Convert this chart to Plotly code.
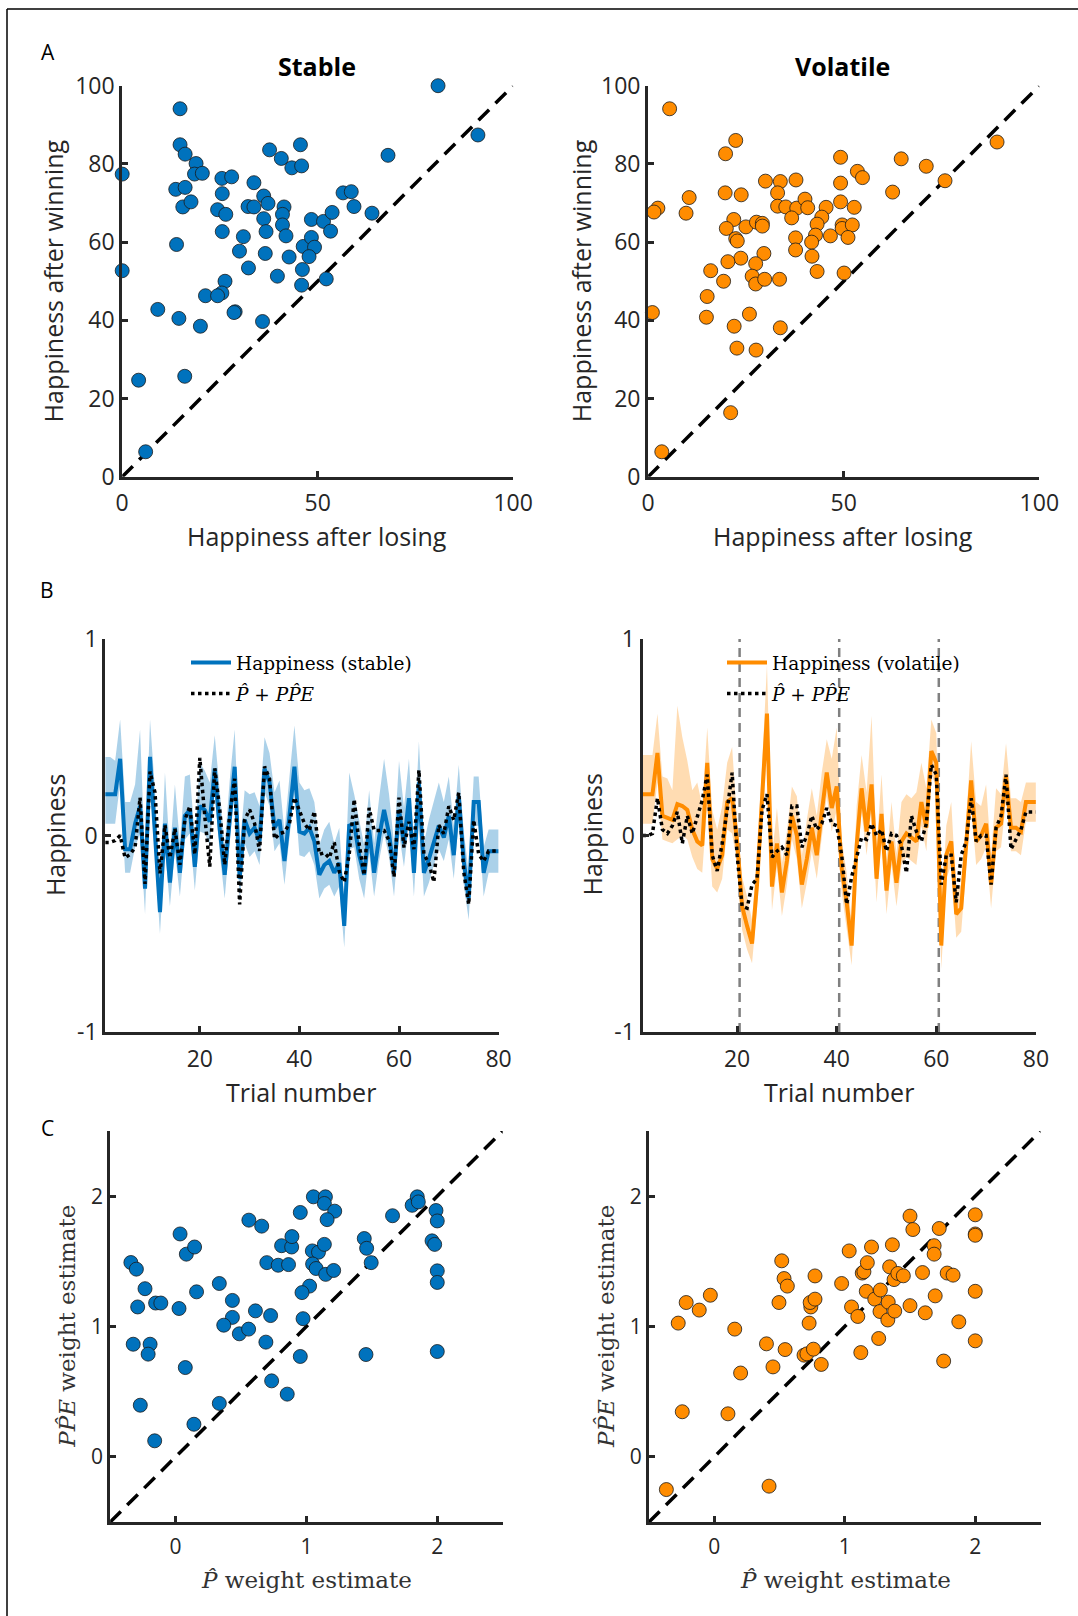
import plotly.graph_objects as go

# ---------------- DATA ----------------
# Panel A: happiness after losing (x) vs after winning (y)
a_stable_lose = [80.8, 91.0, 14.8, 14.8, 16.1, 37.7, 45.6, 40.7, 43.4, 45.9, 68.0, 0.0, 18.9, 18.5,
                 20.5, 25.5, 28.0, 33.7, 13.7, 16.1, 15.5, 17.6, 25.6, 24.4, 26.5, 32.2, 33.7, 36.2,
                 37.3, 36.2, 41.4, 41.0, 41.0, 41.9, 36.8, 25.6, 31.0, 48.4, 51.5, 53.7, 53.3, 56.5,
                 58.6, 59.3, 63.9, 13.9, 30.0, 36.6, 42.7, 46.3, 48.4, 49.2, 47.8, 32.3, 39.7, 46.1,
                 45.9, 52.2, 0.0, 26.3, 25.5, 21.3, 24.4, 9.1, 14.5, 20.0, 28.9, 35.9, 4.2, 16.0, 6.0,
                 28.6]
a_stable_win = [100.0, 87.4, 94.1, 84.9, 82.5, 83.6, 84.9, 81.4, 79.0, 79.5, 82.2, 77.4, 80.1, 77.4,
                77.6, 76.3, 76.7, 75.2, 73.5, 74.0, 69.0, 70.3, 72.4, 68.3, 67.1, 69.1, 69.0, 71.8,
                69.9, 66.0, 69.0, 67.1, 64.4, 61.6, 62.7, 62.7, 61.4, 65.8, 65.3, 67.6, 62.8, 72.6,
                72.9, 69.1, 67.4, 59.4, 57.7, 57.1, 56.2, 58.9, 61.2, 58.7, 56.3, 53.4, 51.3, 53.0,
                49.0, 50.6, 52.7, 50.0, 47.0, 46.3, 46.3, 42.8, 40.5, 38.5, 42.2, 39.7, 24.7, 25.7, 6.4,
                42.0]
a_vol_lose = [5.5, 22.4, 19.8, 49.2, 64.7, 71.1, 89.2, 75.9, 53.5, 54.8, 49.2, 62.5, 2.5, 1.5, 10.5,
              9.7, 19.7, 23.8, 30.0, 33.8, 37.8, 33.1, 33.1, 35.2, 38.0, 40.1, 40.8, 36.7, 45.5, 44.4,
              49.2, 52.7, 21.9, 20.0, 25.0, 27.7, 29.2, 29.2, 43.2, 42.8, 41.8, 46.6, 49.6, 49.6, 52.2,
              51.1, 37.7, 37.7, 22.4, 22.8, 23.7, 20.4, 29.6, 27.5, 16.0, 19.3, 26.6, 27.5, 29.8, 33.6,
              41.9, 43.2, 50.1, 15.1, 14.9, 25.9, 1.1, 22.0, 33.8, 22.7, 27.6, 21.1, 3.5]
a_vol_win = [94.1, 86.0, 82.6, 81.7, 81.3, 79.4, 85.6, 75.7, 78.1, 76.5, 75.1, 72.8, 68.7, 67.7, 71.4,
             67.4, 72.6, 72.1, 75.6, 75.5, 75.9, 72.6, 69.2, 69.0, 68.7, 71.0, 68.8, 66.2, 68.9, 66.4,
             70.3, 68.9, 65.8, 63.5, 63.9, 65.1, 64.8, 64.1, 64.6, 61.8, 60.0, 61.6, 64.4, 63.5, 64.4,
             61.2, 61.1, 58.0, 60.9, 60.3, 55.9, 55.0, 57.1, 54.5, 52.7, 50.0, 51.3, 49.3, 50.5, 50.5,
             56.4, 52.5, 52.1, 46.1, 40.8, 41.6, 42.0, 38.5, 38.1, 32.9, 32.4, 16.4, 6.4]
diag_a = [0, 100]

# Panel B: trial-by-trial happiness (mean), band offsets above / below the mean, model fit
trials = list(range(1, 81))
b_stable_mean = [0.21, 0.21, 0.21, 0.39, -0.07, -0.07, 0.06, 0.15, -0.27, 0.40, 0.03, -0.39, 0.06,
                 -0.24, 0.04, -0.19, 0.10, 0.13, -0.16, 0.15, 0.13, 0.07, 0.34, 0.03, -0.20, 0.10,
                 0.35, -0.22, 0.08, 0.01, 0.04, -0.03, 0.34, 0.27, 0.04, 0.08, -0.13, 0.10, 0.35,
                 0.02, 0.01, 0.04, -0.03, -0.20, -0.15, -0.13, -0.19, -0.14, -0.46, 0.05, 0.06,
                 -0.10, -0.20, 0.03, -0.19, -0.01, 0.13, 0.01, -0.19, 0.13, -0.04, 0.19, -0.19,
                 0.27, -0.19, -0.12, -0.03, 0.05, -0.01, 0.10, -0.10, 0.20, -0.13, -0.32, 0.17,
                 0.17, -0.19, -0.08, -0.08, -0.08]
b_stable_hi = [0.19, 0.19, 0.17, 0.20, 0.24, 0.24, 0.20, 0.39, 0.14, 0.19, 0.20, 0.12, 0.26, 0.15,
               0.22, 0.15, 0.20, 0.18, 0.15, 0.22, 0.20, 0.20, 0.17, 0.20, 0.15, 0.18, 0.19, 0.15,
               0.15, 0.20, 0.18, 0.18, 0.16, 0.15, 0.18, 0.20, 0.15, 0.20, 0.21, 0.25, 0.22, 0.20,
               0.20, 0.15, 0.18, 0.20, 0.15, 0.18, 0.13, 0.27, 0.15, 0.18, 0.15, 0.20, 0.15, 0.20,
               0.26, 0.20, 0.15, 0.25, 0.18, 0.20, 0.15, 0.21, 0.15, 0.20, 0.20, 0.22, 0.18, 0.20,
               0.15, 0.16, 0.15, 0.13, 0.13, 0.13, 0.13, 0.11, 0.11, 0.11]
b_stable_lo = [0.15, 0.15, 0.15, 0.12, 0.12, 0.12, 0.12, 0.14, 0.13, 0.12, 0.12, 0.11, 0.13, 0.12,
               0.12, 0.12, 0.12, 0.12, 0.12, 0.13, 0.12, 0.12, 0.12, 0.12, 0.12, 0.12, 0.12, 0.12,
               0.12, 0.12, 0.12, 0.12, 0.12, 0.12, 0.12, 0.12, 0.12, 0.12, 0.12, 0.12, 0.12, 0.12,
               0.12, 0.12, 0.12, 0.12, 0.12, 0.12, 0.11, 0.12, 0.12, 0.12, 0.12, 0.12, 0.12, 0.12,
               0.12, 0.12, 0.12, 0.12, 0.12, 0.12, 0.12, 0.12, 0.12, 0.12, 0.12, 0.12, 0.12, 0.12,
               0.12, 0.12, 0.12, 0.11, 0.12, 0.12, 0.12, 0.11, 0.11, 0.11]
b_stable_model = [-0.035, -0.035, -0.026, 0.0, -0.114, -0.096, -0.061, 0.193, -0.246, 0.325, 0.219,
                  -0.193, 0.053, -0.114, 0.035, -0.149, 0.079, 0.149, -0.096, 0.395, 0.096, -0.158,
                  0.342, 0.132, -0.149, 0.105, 0.289, -0.351, 0.079, 0.132, 0.061, -0.079, 0.351,
                  0.289, -0.018, 0.009, 0.018, 0.061, 0.193, 0.132, 0.061, 0.026, 0.123, -0.096,
                  -0.088, -0.114, -0.035, -0.184, -0.237, -0.096, 0.184, -0.044, -0.202, 0.140,
                  0.026, 0.026, 0.026, -0.026, -0.211, 0.193, -0.061, 0.070, -0.070, 0.333, -0.096,
                  -0.140, -0.237, 0.053, 0.009, 0.149, 0.079, 0.219, -0.184, -0.351, 0.079, -0.096,
                  -0.131, -0.079, -0.079, -0.079]

b_vol_mean = [0.21, 0.21, 0.21, 0.42, 0.10, 0.09, 0.08, 0.16, 0.15, 0.13, 0.03, -0.03, -0.05, 0.37,
              -0.12, -0.17, -0.10, 0.17, 0.19, -0.03, -0.36, -0.46, -0.55, -0.25, 0.15, 0.62, -0.26,
              -0.04, -0.29, -0.13, 0.10, 0.00, -0.25, -0.12, 0.04, -0.10, 0.12, 0.32, 0.14, 0.25,
              -0.17, -0.34, -0.56, -0.05, 0.24, 0.02, 0.26, -0.22, 0.11, -0.28, -0.03, -0.24, -0.03,
              0.01, -0.01, -0.03, 0.17, 0.04, 0.43, 0.37, -0.56, -0.10, -0.03, -0.40, -0.37, -0.07,
              0.28, -0.03, 0.00, 0.06, -0.25, 0.04, 0.06, 0.30, 0.04, 0.04, 0.02, 0.17, 0.17, 0.17]
b_vol_hi = [0.20, 0.20, 0.20, 0.20, 0.20, 0.20, 0.15, 0.50, 0.35, 0.25, 0.20, 0.30, 0.20, 0.18, 0.25,
            0.20, 0.25, 0.20, 0.26, 0.10, 0.15, 0.15, 0.12, 0.15, 0.20, 0.25, 0.15, 0.18, 0.15, 0.15,
            0.15, 0.20, 0.15, 0.20, 0.20, 0.20, 0.20, 0.17, 0.25, 0.30, 0.15, 0.15, 0.12, 0.20, 0.17,
            0.20, 0.35, 0.15, 0.20, 0.15, 0.20, 0.15, 0.20, 0.20, 0.20, 0.25, 0.20, 0.20, 0.16, 0.15,
            0.15, 0.15, 0.20, 0.12, 0.12, 0.15, 0.20, 0.20, 0.15, 0.20, 0.15, 0.20, 0.15, 0.17, 0.15,
            0.15, 0.15, 0.10, 0.10, 0.10]
b_vol_lo = [0.15, 0.15, 0.15, 0.15, 0.12, 0.12, 0.12, 0.18, 0.15, 0.15, 0.14, 0.14, 0.14, 0.20, 0.14,
            0.12, 0.12, 0.14, 0.18, 0.12, 0.12, 0.12, 0.10, 0.12, 0.12, 0.20, 0.12, 0.12, 0.12, 0.12,
            0.12, 0.12, 0.12, 0.12, 0.12, 0.12, 0.12, 0.12, 0.12, 0.12, 0.12, 0.12, 0.10, 0.12, 0.12,
            0.12, 0.12, 0.12, 0.12, 0.12, 0.12, 0.12, 0.12, 0.12, 0.12, 0.12, 0.12, 0.12, 0.12, 0.12,
            0.12, 0.12, 0.12, 0.12, 0.12, 0.12, 0.12, 0.12, 0.12, 0.12, 0.12, 0.12, 0.12, 0.12, 0.12,
            0.12, 0.12, 0.10, 0.10, 0.10]
b_vol_model = [0.0, 0.0, 0.01, 0.19, 0.03, 0.01, 0.05, 0.12, -0.04, 0.10, 0.01, 0.10, 0.18, 0.31,
               -0.10, -0.18, -0.04, 0.13, 0.32, -0.10, -0.36, -0.37, -0.25, -0.22, 0.13, 0.21, -0.11,
               -0.08, -0.06, -0.10, 0.15, 0.15, -0.06, 0.0, 0.10, 0.03, 0.06, 0.14, 0.06, 0.05, -0.10,
               -0.35, -0.21, -0.11, -0.01, -0.02, 0.06, 0.00, 0.03, -0.08, 0.01, 0.00, -0.05, -0.19,
               0.10, 0.02, -0.03, 0.06, 0.36, 0.31, -0.25, -0.10, -0.10, -0.34, -0.10, -0.03, 0.19,
               -0.03, 0.00, 0.00, -0.25, 0.04, 0.10, 0.31, -0.07, -0.02, 0.03, 0.12, 0.12, 0.12]
change_points = [20.5, 40.5, 60.5]
b_yspan = [-1, 1]
b_yticks = [-1, 0, 1]
b_yticklabels = ['-1', '0', '1']

# Panel C: P-hat weight (x) vs PP-hatE weight (y)
c_stable_p = [-0.342, -0.30, -0.234, -0.29, -0.153, -0.113, -0.324, -0.195, -0.21, -0.27, -0.16,
              0.034, 0.082, 0.145, 0.16, 0.026, 0.074, 0.14, 0.334, 0.434, 0.434, 0.368, 0.487,
              0.558, 0.61, 0.726, 0.69, 0.334, 0.734, 0.853, 0.56, 0.658, 0.697, 0.784, 0.863,
              0.81, 0.887, 0.889, 0.953, 1.053, 1.145, 1.137, 1.216, 1.158, 1.045, 1.092, 1.137,
              1.047, 1.074, 1.147, 1.208, 1.024, 0.966, 0.974, 0.953, 1.442, 1.46, 1.495, 1.455,
              1.658, 1.808, 1.847, 1.855, 1.99, 2.0, 1.96, 1.98, 2.0, 2.0, 2.0]
c_stable_ppe = [1.491, 1.44, 1.29, 1.15, 1.18, 1.18, 0.864, 0.864, 0.788, 0.396, 0.123, 1.71,
                1.555, 1.61, 1.266, 1.138, 0.685, 0.25, 1.33, 1.20, 1.07, 1.01, 0.944, 0.98, 1.12,
                1.084, 0.88, 0.41, 0.583, 0.481, 1.816, 1.77, 1.49, 1.47, 1.475, 1.62, 1.61, 1.69,
                1.875, 1.995, 1.995, 1.944, 1.885, 1.82, 1.58, 1.57, 1.63, 1.48, 1.445, 1.40, 1.43,
                1.31, 1.26, 1.06, 0.77, 1.675, 1.60, 1.49, 0.785, 1.85, 1.93, 1.995, 1.956, 1.89,
                1.81, 1.657, 1.63, 1.427, 1.338, 0.808]
c_vol_p = [-0.367, 0.42, -0.276, -0.215, -0.115, -0.03, -0.245, 0.105, 0.157, 0.202, 0.40, 0.45,
           0.517, 0.535, 0.56, 0.496, 0.543, 0.688, 0.71, 0.76, 0.82, 0.727, 0.74, 0.735, 0.772,
           0.772, 0.976, 1.034, 1.052, 1.10, 1.123, 1.134, 1.147, 1.173, 1.205, 1.165, 1.23, 1.273,
           1.27, 1.26, 1.333, 1.33, 1.383, 1.344, 1.378, 1.407, 1.449, 1.365, 1.50, 1.522, 1.50,
           1.596, 1.617, 1.685, 1.685, 1.724, 1.693, 1.785, 1.83, 1.874, 1.758, 2.0, 2.0, 2.0, 2.0,
           2.0]
c_vol_ppe = [-0.251, -0.225, 1.026, 1.184, 1.126, 1.24, 0.346, 0.33, 0.98, 0.643, 0.867, 0.69,
             1.504, 1.368, 1.31, 1.184, 0.823, 0.78, 0.79, 0.826, 0.709, 1.026, 1.15, 1.184, 1.21,
             1.388, 1.33, 1.58, 1.15, 1.077, 0.80, 1.41, 1.42, 1.49, 1.61, 1.27, 1.21, 1.28, 1.115,
             0.908, 1.187, 1.05, 1.118, 1.458, 1.36, 1.407, 1.389, 1.627, 1.847, 1.744, 1.16, 1.414,
             1.105, 1.62, 1.555, 1.752, 1.235, 1.41, 1.394, 1.036, 0.735, 1.857, 1.71, 1.70, 1.27,
             0.89]
diag_c = [-0.5, 2.5]

# ---------------- STYLE ----------------
W, H = 1078, 1616
BLUE = '#0072BD'
ORANGE = '#FF8C00'
BLUE_BAND = 'rgba(0,114,189,0.33)'
ORANGE_BAND = 'rgba(255,140,0,0.30)'
AX = '#262626'
SANS = 'Open Sans, Noto Sans, sans-serif'
SERIF = 'DejaVu Serif, serif'


def xd(a, b):
    return [a / W, b / W]


def yd(top, bottom):
    return [1 - bottom / H, 1 - top / H]


fig = go.Figure()


def axis_common(size, standoff):
    return dict(showline=True, linewidth=3, linecolor=AX, ticks='inside', ticklen=6,
                tickwidth=2.5, tickcolor=AX, showgrid=False, zeroline=False, ticklabelstandoff=standoff,
                tickfont=dict(family=SANS, size=size, color=AX), fixedrange=True)


# --- Panel A
for n, xs, ys, col in [('', a_stable_lose, a_stable_win, BLUE), ('2', a_vol_lose, a_vol_win, ORANGE)]:
    fig.add_trace(go.Scatter(x=diag_a, y=diag_a, mode='lines',
                             line=dict(color='black', width=3.5, dash='15px,9px'),
                             showlegend=False, xaxis='x' + n, yaxis='y' + n, hoverinfo='skip'))
    fig.add_trace(go.Scatter(x=xs, y=ys, mode='markers', cliponaxis=False,
                             marker=dict(size=14, color=col, line=dict(color='#1a1a1a', width=0.8)),
                             showlegend=False, xaxis='x' + n, yaxis='y' + n))

# --- Panel B
panels_b = [
    (b_stable_mean, b_stable_hi, b_stable_lo, b_stable_model, BLUE, BLUE_BAND, 'Happiness (stable)', 'legend', '3'),
    (b_vol_mean, b_vol_hi, b_vol_lo, b_vol_model, ORANGE, ORANGE_BAND, 'Happiness (volatile)', 'legend2', '4'),
]
for mean, hi, lo, model, col, band, name, leg, n in panels_b:
    upper = [m + h for m, h in zip(mean, hi)]
    lower = [m - l for m, l in zip(mean, lo)]
    fig.add_trace(go.Scatter(x=trials + trials[::-1], y=upper + lower[::-1], fill='toself', fillcolor=band,
                             line=dict(width=0, color=band), mode='lines', showlegend=False,
                             xaxis='x' + n, yaxis='y' + n, hoverinfo='skip'))
    if n == '4':
        for cp in change_points:
            fig.add_trace(go.Scatter(x=[cp, cp], y=b_yspan, mode='lines',
                                     line=dict(color='#808080', width=2.5, dash='9px,6px'),
                                     showlegend=False, xaxis='x' + n, yaxis='y' + n, hoverinfo='skip'))
    fig.add_trace(go.Scatter(x=trials, y=mean, mode='lines', line=dict(color=col, width=4),
                             name=name, legend=leg, legendgroup='g1' + n, xaxis='x' + n, yaxis='y' + n))
    fig.add_trace(go.Scatter(x=trials, y=model, mode='lines', line=dict(color='black', width=3.5, dash='dot'),
                             name='<i>P\u0302</i> + <i>PP\u0302E</i>', legend=leg, legendgroup='g2' + n,
                             xaxis='x' + n, yaxis='y' + n))

# --- Panel C
for n, xs, ys, col in [('5', c_stable_p, c_stable_ppe, BLUE), ('6', c_vol_p, c_vol_ppe, ORANGE)]:
    fig.add_trace(go.Scatter(x=diag_c, y=diag_c, mode='lines',
                             line=dict(color='black', width=3.5, dash='15px,9px'),
                             showlegend=False, xaxis='x' + n, yaxis='y' + n, hoverinfo='skip'))
    fig.add_trace(go.Scatter(x=xs, y=ys, mode='markers', cliponaxis=False,
                             marker=dict(size=14, color=col, line=dict(color='#1a1a1a', width=0.8)),
                             showlegend=False, xaxis='x' + n, yaxis='y' + n))

layout = dict(width=W, height=H, margin=dict(l=0, r=0, t=0, b=0, autoexpand=False), paper_bgcolor='white',
              plot_bgcolor='rgba(0,0,0,0)', showlegend=True)

specs = {
    '': (xd(122.2, 513.1), yd(85.7, 476.8), [0, 100], [0, 100], [0, 50, 100], [0, 20, 40, 60, 80, 100], None, 23),
    '2': (xd(648.1, 1039.3), yd(85.7, 476.8), [0, 100], [0, 100], [0, 50, 100], [0, 20, 40, 60, 80, 100], None, 23),
    '3': (xd(105.2, 498.6), yd(639, 1032), [1, 80], [-1, 1], [20, 40, 60, 80], b_yticks, b_yticklabels, 23),
    '4': (xd(642.5, 1035.9), yd(639, 1032), [1, 80], [-1, 1], [20, 40, 60, 80], b_yticks, b_yticklabels, 23),
    '5': (xd(110.2, 502.7), yd(1131, 1522), [-0.5, 2.5], [-0.5, 2.5], [0, 1, 2], [0, 1, 2], None, 21),
    '6': (xd(649.0, 1040.5), yd(1131, 1522), [-0.5, 2.5], [-0.5, 2.5], [0, 1, 2], [0, 1, 2], None, 21),
}
for n, (dx, dy, rx, ry, tx, ty, tyt, fs) in specs.items():
    xa = axis_common(fs, 4)
    xa.update(domain=dx, range=rx, tickvals=tx, anchor='y' + n)
    ya = axis_common(fs, 0)
    ya.update(domain=dy, range=ry, tickvals=ty, anchor='x' + n)
    if tyt is not None:
        ya['ticktext'] = tyt
    layout['xaxis' + n] = xa
    layout['yaxis' + n] = ya

leg_common = dict(bgcolor='rgba(0,0,0,0)', borderwidth=0, font=dict(family=SERIF, size=18.5, color='black'),
                  xanchor='left', yanchor='top', tracegroupgap=4, traceorder='grouped', itemwidth=40)
layout['legend'] = dict(leg_common, x=186 / W, y=1 - 644 / H)
layout['legend2'] = dict(leg_common, x=722 / W, y=1 - 644 / H)

fig.update_layout(**layout)


def ann(x, y, text, size=25, angle=0, family=SANS, bold=False, color=AX):
    t = '<b>' + text + '</b>' if bold else text
    fig.add_annotation(x=x / W, y=1 - y / H, xref='paper', yref='paper', text=t, showarrow=False,
                       textangle=angle, font=dict(family=family, size=size, color=color),
                       xanchor='center', yanchor='middle')


# panel letters
ann(48.2, 51.8, 'A', 21, color='black')
ann(47.2, 589.6, 'B', 21, color='black')
ann(47.2, 1128.3, 'C', 21, color='black')
# titles
ann(316.8, 66, 'Stable', 25, bold=True, color='black')
ann(842.0, 66, 'Volatile', 25, bold=True, color='black')
# A labels
ann(316.8, 535.7, 'Happiness after losing')
ann(842.9, 535.7, 'Happiness after losing')
ann(53.4, 281, 'Happiness after winning', angle=-90)
ann(581.2, 281, 'Happiness after winning', angle=-90)
# B labels
ann(301.3, 1091.7, 'Trial number')
ann(838.6, 1091.7, 'Trial number')
ann(55.1, 835, 'Happiness', angle=-90)
ann(591.5, 835, 'Happiness', angle=-90)
# C labels
ann(306.5, 1580, '<i>P\u0302</i> weight estimate', 23, family=SERIF, color='#333333')
ann(845.4, 1580, '<i>P\u0302</i> weight estimate', 23, family=SERIF, color='#333333')
ann(67.1, 1326.7, '<i>PP\u0302E</i> weight estimate', 23, angle=-90, family=SERIF, color='#333333')
ann(605.2, 1326.7, '<i>PP\u0302E</i> weight estimate', 23, angle=-90, family=SERIF, color='#333333')

# outer frame (top and left edges)
fig.add_shape(type='line', xref='paper', yref='paper', x0=7 / W, x1=1, y0=1 - 9 / H, y1=1 - 9 / H,
              line=dict(color='black', width=1.5))
fig.add_shape(type='line', xref='paper', yref='paper', x0=7 / W, x1=7 / W, y0=0, y1=1 - 9 / H,
              line=dict(color='black', width=1.5))

fig.write_html('out.html', config={'displayModeBar': False},
               post_script="document.body.style.margin='0px';document.body.style.overflow='hidden';")
